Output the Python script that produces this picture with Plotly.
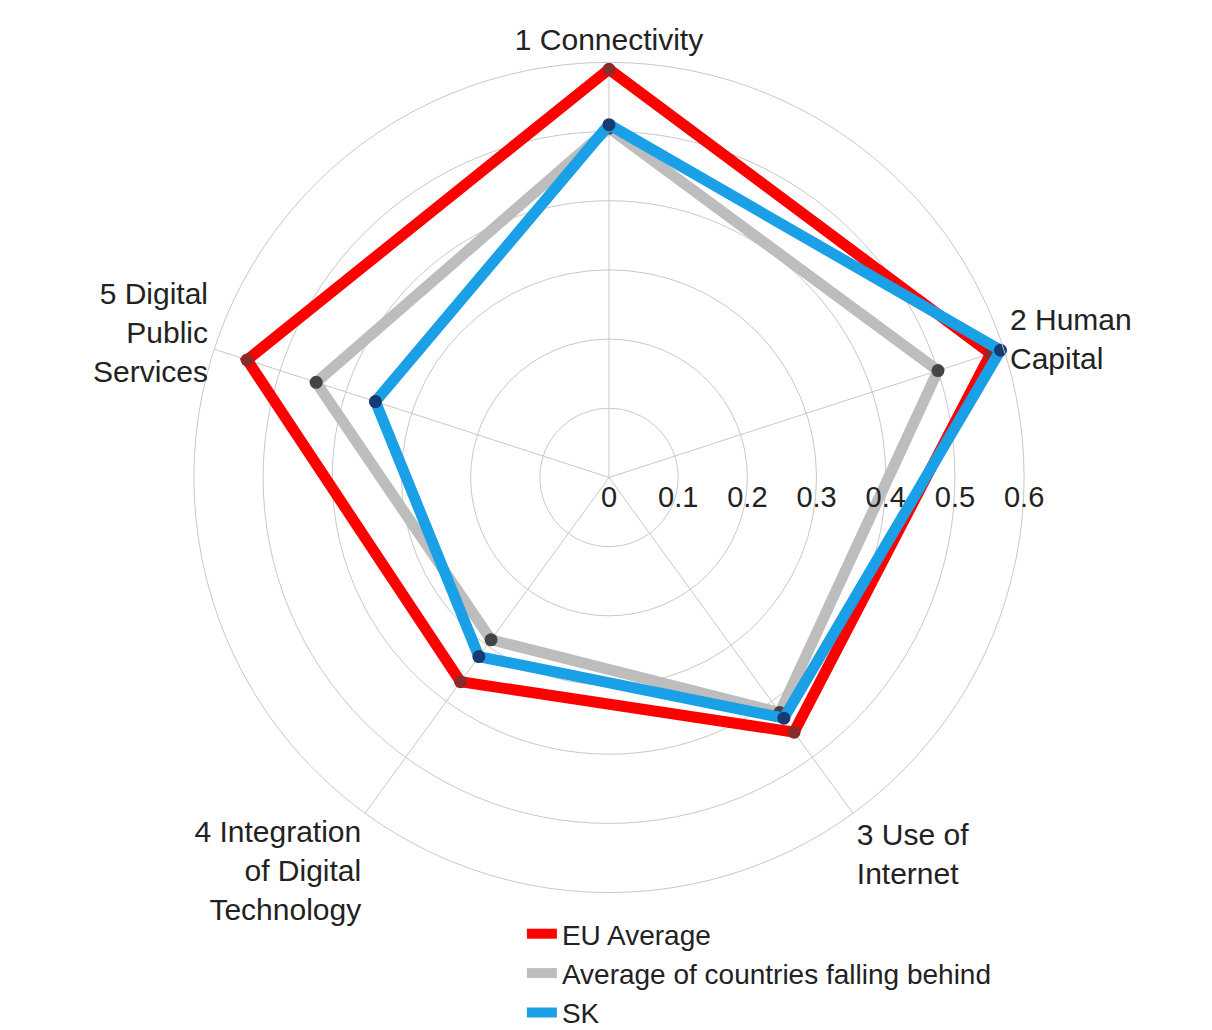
import plotly.graph_objects as go

categories = ["1 Connectivity", "2 Human<br>Capital", "3 Use of<br>Internet",
              "4 Integration<br>of Digital<br>Technology", "5 Digital<br>Public<br>Services"]
eu_average = [0.59, 0.58, 0.455, 0.365, 0.55]
falling_behind = [0.505, 0.50, 0.42, 0.29, 0.445]
sk = [0.51, 0.595, 0.43, 0.32, 0.355]
radial_ticks = [0, 0.1, 0.2, 0.3, 0.4, 0.5, 0.6]
radial_labels = ["0", "0.1", "0.2", "0.3", "0.4", "0.5", "0.6"]

series = [
    ("EU Average", eu_average, "#ff0000", "#8a2a2a"),
    ("Average of countries falling behind", falling_behind, "#bdbdbd", "#444444"),
    ("SK", sk, "#1aa0e6", "#173a70"),
]

fig = go.Figure()
for name, vals, col, mcol in series:
    fig.add_trace(go.Scatterpolar(
        r=vals + vals[:1],
        theta=categories + categories[:1],
        mode="lines",
        name=name,
        line=dict(color=col, width=11),
    ))
    fig.add_trace(go.Scatterpolar(
        r=vals,
        theta=categories,
        mode="markers",
        name=name,
        showlegend=False,
        marker=dict(color=mcol, size=13, line=dict(width=0)),
    ))

cx, cy, R = 601, 475, 420
font_main = "Liberation Sans, Arial, sans-serif"
fig.update_layout(
    width=1212, height=1030,
    paper_bgcolor="white", plot_bgcolor="white",
    margin=dict(l=0, r=0, t=0, b=0),
    font=dict(family=font_main, size=30, color="#222222"),
    polar=dict(
        bgcolor="white",
        domain=dict(x=[(cx - R) / 1212, (cx + R) / 1212],
                    y=[1 - (cy + R) / 1030, 1 - (cy - R) / 1030]),
        radialaxis=dict(
            range=[0, 0.6], tickvals=radial_ticks, ticktext=radial_labels,
            angle=0, showline=False, ticks="", gridcolor="#c8c8c8", gridwidth=1,
            tickfont=dict(size=29, color="#222222"),
        ),
        angularaxis=dict(
            direction="clockwise", rotation=90, categoryorder="array",
            categoryarray=categories, ticks="", showline=True,
            linecolor="#c8c8c8", linewidth=1, gridcolor="#c8c8c8", gridwidth=1,
            tickfont=dict(size=30, color="#222222"),
        ),
    ),
    legend=dict(
        x=0.424, y=-0.012, xanchor="left", yanchor="bottom",
        font=dict(size=28, color="#222222"),
        bgcolor="rgba(0,0,0,0)", tracegroupgap=0,
    ),
    showlegend=True,
)

fig.write_html("out.html")
